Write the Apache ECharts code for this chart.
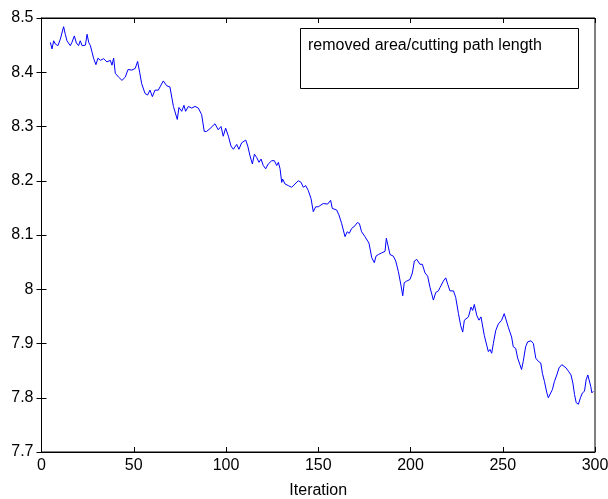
<!DOCTYPE html>
<html>
<head>
<meta charset="utf-8">
<title>removed area/cutting path length</title>
<script src="https://cdn.jsdelivr.net/npm/echarts@6/dist/echarts.min.js"></script>
<style>html,body{margin:0;padding:0;background:#fff;}</style>
</head>
<body>
<div id="main" style="width:608px;height:499px;"></div>
<script type="text/javascript">
// x positions (iteration)
var iters = [
  4.8, 5.7, 6.6, 7.5, 8.9, 10.2, 12.0, 12.9, 13.8, 15.6, 16.5, 17.8, 18.9, 20.1, 21.0, 22.0, 23.8, 24.7, 25.6, 26.5,
  27.4, 28.3, 29.5, 30.6, 31.9, 33.7, 35.5, 37.3, 38.2, 39.1, 40.0, 41.8, 43.6, 45.4, 46.9, 49.0, 50.8, 52.1, 53.2, 54.3,
  56.1, 57.5, 58.8, 60.1, 61.5, 63.3, 66.0, 67.9, 69.6, 71.5, 73.6, 74.5, 76.0, 77.2, 78.1, 79.6, 81.4, 83.2, 85.0, 86.8,
  88.2, 89.5, 91.3, 94.0, 95.8, 97.3, 98.5, 99.8, 101.3, 102.7, 104.0, 105.8, 107.0, 108.5, 110.7, 111.8, 113.0, 114.3, 115.4, 116.6,
  117.9, 119.0, 120.2, 121.5, 122.9, 124.8, 126.2, 127.5, 128.4, 129.3, 130.2, 130.7, 132.0, 133.8, 135.6, 137.4, 139.2, 140.7, 141.9, 143.2,
  144.6, 146.1, 147.3, 148.6, 150.0, 152.7, 155.1, 156.7, 157.6, 160.0, 161.2, 162.7, 164.5, 165.7, 166.8, 168.1, 169.9, 171.2, 172.3, 173.5,
  175.3, 177.5, 179.0, 180.4, 181.3, 182.6, 184.4, 186.2, 186.9, 187.7, 188.9, 190.7, 192.0, 193.4, 194.9, 195.8, 196.6, 197.9, 199.7, 201.0,
  202.1, 203.4, 204.2, 205.1, 206.4, 207.9, 209.3, 210.6, 212.4, 213.7, 215.1, 216.0, 217.8, 219.1, 220.2, 221.4, 223.3, 224.5, 226.0, 227.2,
  228.3, 229.2, 230.1, 231.4, 232.8, 233.7, 234.6, 235.9, 237.1, 238.2, 240.0, 241.3, 242.2, 243.1, 244.0, 244.9, 246.2, 247.6, 249.4, 250.8,
  251.7, 253.0, 253.9, 254.8, 255.7, 257.0, 258.1, 259.3, 260.2, 261.1, 262.4, 263.5, 265.3, 266.6, 267.9, 269.3, 270.6, 271.5, 272.6, 273.9,
  274.7, 275.6, 276.9, 278.0, 279.3, 280.5, 282.0, 283.2, 284.3, 285.6, 287.0, 288.0, 288.9, 289.8, 291.0, 292.1, 293.2, 294.3, 295.2, 296.1,
  297.0, 297.7, 298.3, 299.1
];
// removed area / cutting path length
var ratio = [
  8.455, 8.443, 8.458, 8.452, 8.449, 8.461, 8.484, 8.470, 8.458, 8.449, 8.455, 8.467, 8.454, 8.449, 8.458, 8.449, 8.450, 8.470, 8.455, 8.449,
  8.437, 8.425, 8.414, 8.426, 8.422, 8.425, 8.419, 8.422, 8.413, 8.426, 8.398, 8.391, 8.385, 8.391, 8.405, 8.404, 8.407, 8.420, 8.400, 8.379,
  8.361, 8.358, 8.367, 8.355, 8.367, 8.367, 8.384, 8.375, 8.373, 8.337, 8.313, 8.335, 8.328, 8.339, 8.328, 8.337, 8.334, 8.337, 8.334, 8.322,
  8.291, 8.291, 8.296, 8.305, 8.294, 8.300, 8.282, 8.297, 8.282, 8.264, 8.258, 8.267, 8.258, 8.270, 8.275, 8.264, 8.246, 8.231, 8.249, 8.243,
  8.234, 8.240, 8.228, 8.222, 8.231, 8.237, 8.237, 8.228, 8.234, 8.222, 8.197, 8.203, 8.194, 8.191, 8.188, 8.194, 8.200, 8.197, 8.188, 8.191,
  8.182, 8.167, 8.143, 8.152, 8.152, 8.158, 8.157, 8.164, 8.149, 8.146, 8.137, 8.121, 8.097, 8.106, 8.103, 8.112, 8.117, 8.123, 8.121, 8.106,
  8.097, 8.085, 8.058, 8.049, 8.061, 8.064, 8.067, 8.070, 8.094, 8.082, 8.064, 8.061, 8.052, 8.033, 8.006, 7.988, 8.012, 8.015, 8.018, 8.030,
  8.052, 8.055, 8.058, 8.046, 8.046, 8.030, 8.024, 8.003, 7.980, 7.994, 7.997, 8.003, 8.015, 8.021, 8.009, 7.997, 7.997, 7.985, 7.955, 7.933,
  7.921, 7.943, 7.940, 7.949, 7.967, 7.961, 7.972, 7.952, 7.943, 7.949, 7.915, 7.897, 7.885, 7.889, 7.882, 7.900, 7.924, 7.936, 7.943, 7.955,
  7.945, 7.930, 7.921, 7.912, 7.894, 7.891, 7.873, 7.861, 7.852, 7.867, 7.894, 7.903, 7.905, 7.900, 7.873, 7.867, 7.864, 7.845, 7.830, 7.809,
  7.800, 7.797, 7.815, 7.830, 7.842, 7.855, 7.861, 7.858, 7.855, 7.849, 7.842, 7.827, 7.806, 7.791, 7.788, 7.800, 7.809, 7.812, 7.833, 7.842,
  7.839, 7.821, 7.809, 7.812
];
var legendText = 'removed area/cutting path length';
var xName = 'Iteration';

var points = [];
for (var i = 0; i < iters.length; i++) {
  points.push([iters[i], ratio[i]]);
}

var myChart = echarts.init(document.getElementById('main'));

var labelFont = { color: '#000', fontFamily: 'Liberation Sans, Arial, sans-serif', fontSize: 16 };
var tickStyle = { show: true, inside: true, length: 5, lineStyle: { color: '#000', width: 1 } };

var option = {
  animation: false,
  backgroundColor: '#fff',
  grid: {
    left: 41.5, right: 13, top: 18, bottom: 47,
    outerBoundsMode: 'none', containLabel: false,
    show: true, borderColor: '#000', borderWidth: 1, backgroundColor: 'transparent'
  },
  xAxis: [{
    type: 'value', min: 0, max: 300, interval: 50,
    name: xName, nameLocation: 'middle', nameGap: 31,
    nameTextStyle: labelFont,
    axisLine: { show: true, onZero: false, lineStyle: { color: '#000' } },
    axisTick: tickStyle,
    axisLabel: Object.assign({ margin: 6 }, labelFont),
    splitLine: { show: false }
  }, {
    type: 'value', min: 0, max: 300, interval: 50, position: 'top',
    axisLine: { show: true, lineStyle: { color: '#000' } },
    axisTick: tickStyle,
    axisLabel: { show: false },
    splitLine: { show: false }
  }],
  yAxis: [{
    type: 'value', min: 7.7, max: 8.5, interval: 0.1,
    axisLine: { show: true, onZero: false, lineStyle: { color: '#000' } },
    axisTick: tickStyle,
    axisLabel: Object.assign({ margin: 8 }, labelFont),
    splitLine: { show: false }
  }, {
    type: 'value', min: 7.7, max: 8.5, interval: 0.1, position: 'right',
    axisLine: { show: true, lineStyle: { color: '#000' } },
    axisTick: tickStyle,
    axisLabel: { show: false },
    splitLine: { show: false }
  }],
  graphic: [{
    type: 'rect',
    left: 300, top: 28,
    shape: { width: 278, height: 60 },
    style: { fill: '#fff', stroke: '#000', lineWidth: 1 },
    z: 100
  }, {
    type: 'text',
    left: 308, top: 38,
    style: { text: legendText, fill: '#000', font: '16px "Liberation Sans", Arial, sans-serif' },
    z: 101
  }],
  series: [{
    name: legendText,
    type: 'line',
    data: points,
    showSymbol: false,
    symbol: 'none',
    lineStyle: { color: '#0000ff', width: 1 },
    itemStyle: { color: '#0000ff' }
  }]
};

myChart.setOption(option);
</script>
</body>
</html>
